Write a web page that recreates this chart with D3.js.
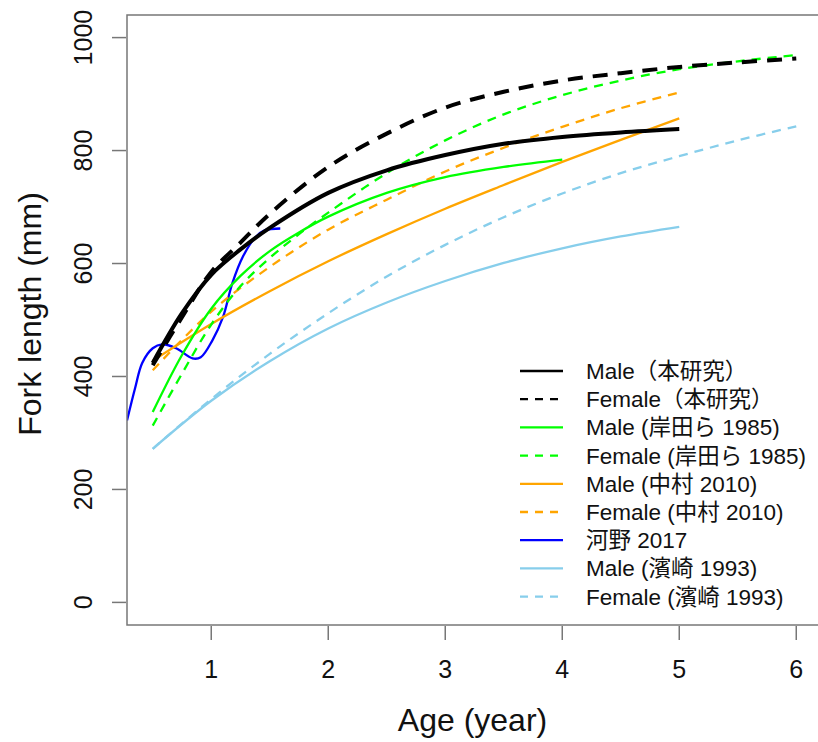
<!DOCTYPE html>
<html>
<head>
<meta charset="utf-8">
<script src="https://cdn.jsdelivr.net/npm/d3@7"></script>
<style>
  body { margin: 0; background: #fff; }
  text { font-family: "Liberation Sans", Arial, "Noto Sans CJK JP", sans-serif; fill: #111; }
</style>
</head>
<body>
<script>
// growth curves: [age, fork length mm]
var maleThis = [[0.5,424],[0.75,512],[1,580],[1.25,625],[1.5,663],[2,725],[2.5,765],[3,792],[3.5,812],[4,824],[4.5,832],[5,838]];
var femaleThis = [[0.5,420],[0.75,505],[1,585],[1.25,637],[1.5,688],[2,771],[2.5,830],[3,876],[3.5,904],[4,924],[4.5,937],[5,948],[5.5,956],[6,963]];
var maleKishida = [[0.5,337],[0.75,438],[1,520],[1.25,578],[1.5,622],[1.75,655],[2,683],[2.5,725],[3,753],[3.5,771],[4,784]];
var femaleKishida = [[0.5,313],[0.75,405],[1,492],[1.25,560],[1.5,610],[1.75,652],[2,690],[2.5,760],[3,818],[3.5,864],[4,898],[4.5,924],[5,944],[5.5,958],[6,969]];
var maleNakamura = [[0.5,428],[1,493],[1.5,551],[2,604],[2.5,652],[3,697],[3.5,739],[4,780],[4.5,819],[5,857]];
var femaleNakamura = [[0.5,411],[1,515],[1.5,594],[2,660],[2.5,713],[3,763],[3.5,805],[4,842],[4.5,875],[5,903]];
var kawano = [[0.28,322],[0.35,380],[0.41,424],[0.5,450],[0.58,457],[0.7,450],[0.84,432],[0.91,434],[1.01,464],[1.1,505],[1.18,565],[1.27,612],[1.38,647],[1.46,659],[1.59,662]];
var maleHamasaki = [[0.5,272],[1,357],[1.5,427],[2,485],[2.5,531],[3,569],[3.5,601],[4,627],[4.5,648],[5,665]];
var femaleHamasaki = [[0.5,272],[1,360],[1.5,440],[2,512],[2.5,577],[3,633],[3.5,682],[4,724],[4.5,760],[5,790],[5.5,818],[6,843]];

var seriesNames = ["Male（本研究）", "Female（本研究）", "Male (岸田ら 1985)", "Female (岸田ら 1985)",
  "Male (中村 2010)", "Female (中村 2010)", "河野 2017", "Male (濱崎 1993)", "Female (濱崎 1993)"];
var seriesData = [maleThis, femaleThis, maleKishida, femaleKishida, maleNakamura, femaleNakamura, kawano, maleHamasaki, femaleHamasaki];
var seriesColors = ["#000000", "#000000", "#00ff00", "#00ff00", "#ffa500", "#ffa500", "#0000ff", "#87ceeb", "#87ceeb"];
var seriesDashed = [false, true, false, true, false, true, false, false, true];

var xTicks = [1, 2, 3, 4, 5, 6];
var yTicks = [0, 200, 400, 600, 800, 1000];

var width = 818, height = 742;
var plotLeft = 127, plotRight = 822, plotTop = 15, plotBottom = 625;

var svg = d3.select("body").append("svg")
  .attr("width", width)
  .attr("height", height);

var x = d3.scaleLinear().domain([0.28, 6.22]).range([plotLeft, plotRight]);
var y = d3.scaleLinear().domain([-40, 1040]).range([plotBottom, plotTop]);

svg.append("clipPath").attr("id", "plotclip")
  .append("rect")
  .attr("x", plotLeft).attr("y", plotTop)
  .attr("width", plotRight - plotLeft).attr("height", plotBottom - plotTop);

var line = d3.line()
  .x(function(d) { return x(d[0]); })
  .y(function(d) { return y(d[1]); })
  .curve(d3.curveCatmullRom.alpha(0.5));

// draw order: others first, black on top
var order = [7, 8, 6, 4, 5, 2, 3, 0, 1];
var plot = svg.append("g").attr("clip-path", "url(#plotclip)");
order.forEach(function(i) {
  var thick = seriesColors[i] == "#000000";
  plot.append("path")
    .datum(seriesData[i])
    .attr("d", line)
    .attr("fill", "none")
    .attr("stroke", seriesColors[i])
    .attr("stroke-width", thick ? 4 : 2.3)
    .attr("stroke-dasharray", seriesDashed[i] ? (thick ? "15,10" : "9,7") : null);
});

// box
svg.append("rect")
  .attr("x", plotLeft).attr("y", plotTop)
  .attr("width", plotRight - plotLeft).attr("height", plotBottom - plotTop)
  .attr("fill", "none")
  .attr("stroke", "#777")
  .attr("stroke-width", 1.5);

// x axis
var xAxis = svg.append("g");
xAxis.selectAll("line").data(xTicks).enter().append("line")
  .attr("x1", function(d) { return x(d); })
  .attr("x2", function(d) { return x(d); })
  .attr("y1", plotBottom + 1).attr("y2", plotBottom + 15)
  .attr("stroke", "#777").attr("stroke-width", 1.5);
xAxis.selectAll("text").data(xTicks).enter().append("text")
  .attr("x", function(d) { return x(d); })
  .attr("y", 678)
  .attr("text-anchor", "middle")
  .style("font-size", "25px")
  .text(function(d) { return d; });

// y axis
var yAxis = svg.append("g");
yAxis.selectAll("line").data(yTicks).enter().append("line")
  .attr("x1", plotLeft - 15).attr("x2", plotLeft - 1)
  .attr("y1", function(d) { return y(d); })
  .attr("y2", function(d) { return y(d); })
  .attr("stroke", "#777").attr("stroke-width", 1.5);
yAxis.selectAll("text").data(yTicks).enter().append("text")
  .attr("transform", function(d) { return "translate(92," + y(d) + ") rotate(-90)"; })
  .attr("text-anchor", "middle")
  .style("font-size", "25px")
  .text(function(d) { return d; });

svg.append("text")
  .attr("x", (plotLeft + plotRight) / 2 - 2)
  .attr("y", 731)
  .attr("text-anchor", "middle")
  .style("font-size", "32px")
  .text("Age (year)");

svg.append("text")
  .attr("transform", "translate(41," + ((plotTop + plotBottom) / 2 - 6) + ") rotate(-90)")
  .attr("text-anchor", "middle")
  .style("font-size", "32px")
  .text("Fork length (mm)");

// legend
var legend = svg.append("g");
seriesNames.forEach(function(name, i) {
  var ly = 371 + i * 28.2;
  legend.append("line")
    .attr("x1", 520).attr("x2", 563)
    .attr("y1", ly).attr("y2", ly)
    .attr("stroke", seriesColors[i])
    .attr("stroke-width", 2.3)
    .attr("stroke-dasharray", seriesDashed[i] ? "8,7" : null);
  legend.append("text")
    .attr("x", 586)
    .attr("y", ly + 8)
    .style("font-size", "22.5px")
    .text(name);
});
</script>
</body>
</html>
